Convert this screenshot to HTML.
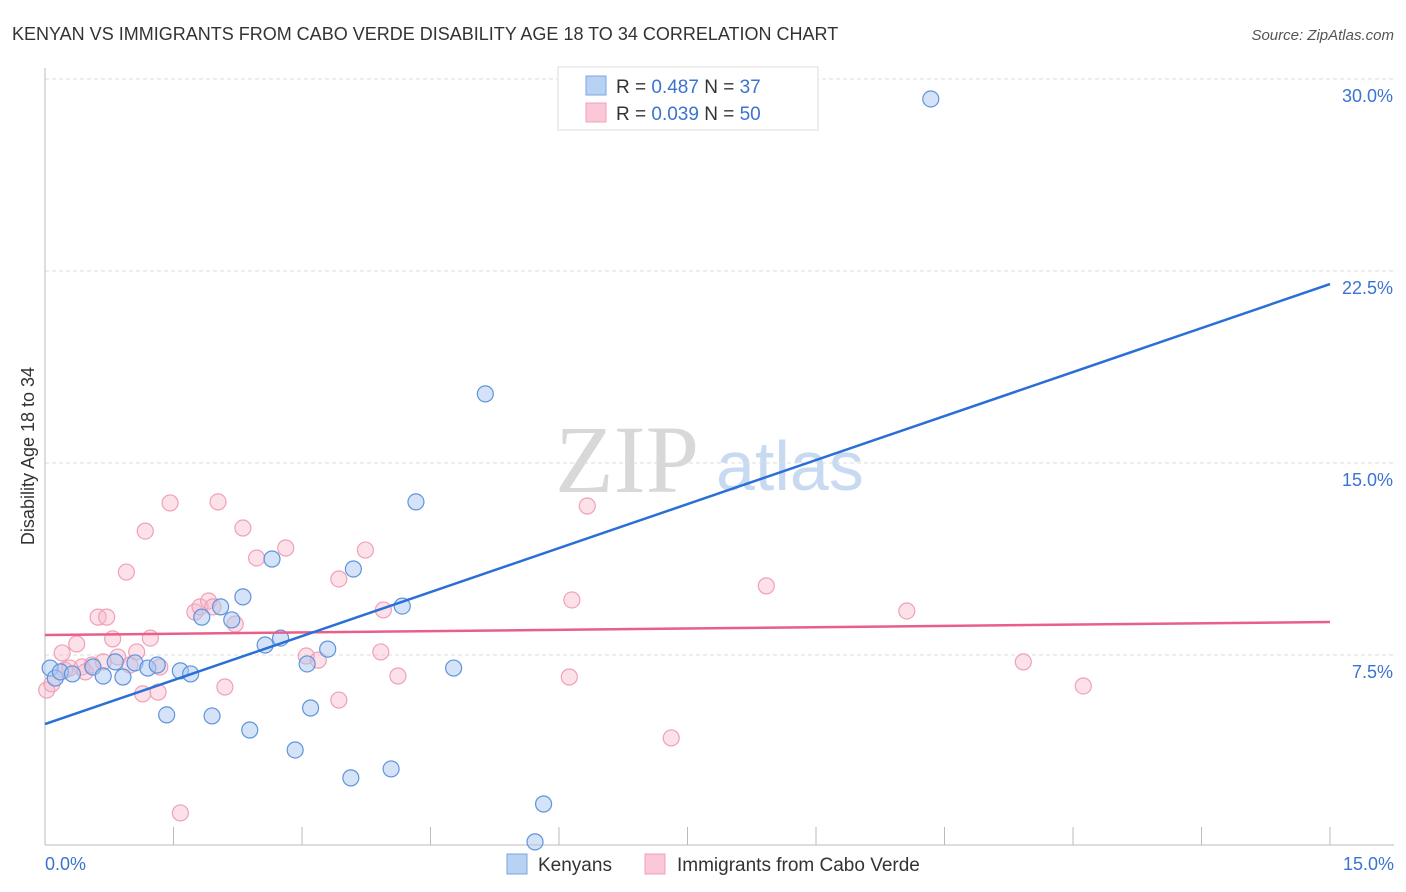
<!DOCTYPE html>
<html><head><meta charset="utf-8"><style>
body{margin:0;background:#fff;font-family:"Liberation Sans",sans-serif;}
svg{display:block}
</style></head><body>
<svg id="chart" width="1406" height="892" xmlns="http://www.w3.org/2000/svg">
<text x="12" y="40" font-size="18" fill="#333">KENYAN VS IMMIGRANTS FROM CABO VERDE DISABILITY AGE 18 TO 34 CORRELATION CHART</text>
<text x="1394" y="40" font-size="15" fill="#555" font-style="italic" text-anchor="end">Source: ZipAtlas.com</text>
<g>
<text x="555" y="492" font-size="96" font-family="Liberation Serif,serif" fill="#d8d8d8">ZIP</text>
<text x="716" y="490" font-size="70" fill="#c8daf2">atlas</text>
</g>
<g id="grid"></g>
<g id="axes"></g>
<g id="marks"></g>
<text transform="translate(34,456) rotate(-90)" font-size="18" fill="#333" text-anchor="middle">Disability Age 18 to 34</text>
<text x="45" y="870" font-size="18" fill="#3b73d1">0.0%</text>
<text x="1394" y="870" font-size="18" fill="#3b73d1" text-anchor="end">15.0%</text>
<g>
<rect x="558" y="67" width="260" height="63" fill="#fff" stroke="#ddd"/>
<rect x="586" y="76" width="20" height="19" fill="#b8d2f4" stroke="#7aa6e0"/>
<rect x="586" y="103" width="20" height="19" fill="#fac8d6" stroke="#f0a0b8"/>
<text x="616" y="93" font-size="19" fill="#333">R = <tspan fill="#3b73d1">0.487</tspan>   N = <tspan fill="#3b73d1"> 37</tspan></text>
<text x="616" y="120" font-size="19" fill="#333">R = <tspan fill="#3b73d1">0.039</tspan>   N = <tspan fill="#3b73d1">50</tspan></text>
</g>
<g>
<rect x="507" y="854" width="20" height="20" fill="#b8d2f4" stroke="#7aa6e0"/>
<text x="538" y="871" font-size="19" fill="#333">Kenyans</text>
<rect x="645" y="854" width="20" height="20" fill="#fac8d6" stroke="#f0a0b8"/>
<text x="677" y="871" font-size="19" fill="#333">Immigrants from Cabo Verde</text>
</g>
</svg>
<script>
const yTicks=[7.5,15,22.5,30];
const yTickLabels=["7.5%","15.0%","22.5%","30.0%"];
const xTicks=[0,1.5,3,4.5,6,7.5,9,10.5,12,13.5,15];
const kenyanX=[0.06,0.12,0.18,0.32,0.56,0.68,0.82,0.91,1.05,1.20,1.31,1.42,1.58,1.70,1.83,1.95,2.05,2.18,2.31,2.39,2.57,2.65,2.75,2.92,3.06,3.10,3.30,3.57,3.60,4.04,4.17,4.33,4.77,5.14,5.82,5.72,10.34];
const kenyanY=[6.99,6.60,6.84,6.76,7.03,6.68,7.23,6.64,7.19,6.99,7.11,5.16,6.88,6.76,8.98,5.12,9.38,8.87,9.77,4.57,7.89,11.25,8.16,3.79,7.15,5.43,7.73,2.70,10.86,3.05,9.41,13.48,6.99,17.70,1.68,0.20,29.22];
const caboX=[0.02,0.08,0.20,0.23,0.37,0.43,0.47,0.55,0.62,0.68,0.72,0.79,0.85,0.95,1.07,1.14,1.17,1.23,1.32,1.34,1.46,1.58,1.75,1.81,1.91,1.96,2.02,2.10,2.22,2.31,2.47,2.81,3.05,3.19,3.43,3.43,3.74,3.92,3.95,4.12,6.12,6.15,6.33,7.31,8.42,10.06,11.42,12.12,0.29,0.99];
const caboY=[6.13,6.37,7.58,6.91,7.93,7.03,6.84,7.11,8.98,7.23,8.98,8.13,7.42,10.74,7.62,5.98,12.34,8.16,6.05,7.03,13.44,1.33,9.18,9.38,9.61,9.38,13.48,6.25,8.71,12.46,11.29,11.68,7.46,7.30,5.74,10.47,11.60,7.62,9.26,6.68,6.64,9.65,13.32,4.26,10.20,9.22,7.23,6.29,6.99,7.11];
const kenyanTrend=[4.80,21.99];
const caboTrend=[8.28,8.79];

const NS="http://www.w3.org/2000/svg";
const X0=45,X1=1330,Ybase=847,PXPER=25.6;
function sx(v){return X0+(v/15)*(X1-X0);}
function sy(v){return Ybase-v*PXPER;}
function mk(tag,attrs,parent){const e=document.createElementNS(NS,tag);for(const k in attrs)e.setAttribute(k,attrs[k]);parent.appendChild(e);return e;}
const grid=document.getElementById('grid'),axes=document.getElementById('axes'),marks=document.getElementById('marks');
yTicks.forEach((t,i)=>{
  const l=mk('line',{x1:X0,x2:1394,y1:sy(t),y2:sy(t),stroke:'#ddd','stroke-dasharray':'4,3'},grid);
  
  
  const tx=mk('text',{x:1393,y:sy(t)+23,'font-size':18,fill:'#3b73d1','text-anchor':'end'},grid);
  tx.textContent=yTickLabels[i];
  
  
});
const la=mk('line',{x1:X0,x2:X0,y1:68,y2:845,stroke:'#bbb'},axes);


const ba=mk('line',{x1:X0,x2:1394,y1:845,y2:845,stroke:'#bbb'},axes);


xTicks.forEach(t=>{
  const l=mk('line',{x1:sx(t),x2:sx(t),y1:827,y2:845,stroke:'#bbb'},axes);
  
  
});
function pts(xs,ys,fill,stroke,name){
  xs.forEach((x,i)=>{
    const c=mk('circle',{cx:sx(x),cy:sy(ys[i]),r:8,fill:fill,stroke:stroke,'stroke-width':1.2},marks);
    
    
  });
}
pts(caboX,caboY,'rgba(248,180,200,0.4)','#f0a0b8','cabo-verde-point');
pts(kenyanX,kenyanY,'rgba(170,200,240,0.5)','#5f93dc','kenyan-point');
const t1=mk('line',{x1:sx(0),x2:sx(15),y1:sy(caboTrend[0]),y2:sy(caboTrend[1]),stroke:'#e8608a','stroke-width':2.5},marks);


const t2=mk('line',{x1:sx(0),x2:sx(15),y1:sy(kenyanTrend[0]),y2:sy(kenyanTrend[1]),stroke:'#2a6fd6','stroke-width':2.5},marks);


</script>
</body></html>
